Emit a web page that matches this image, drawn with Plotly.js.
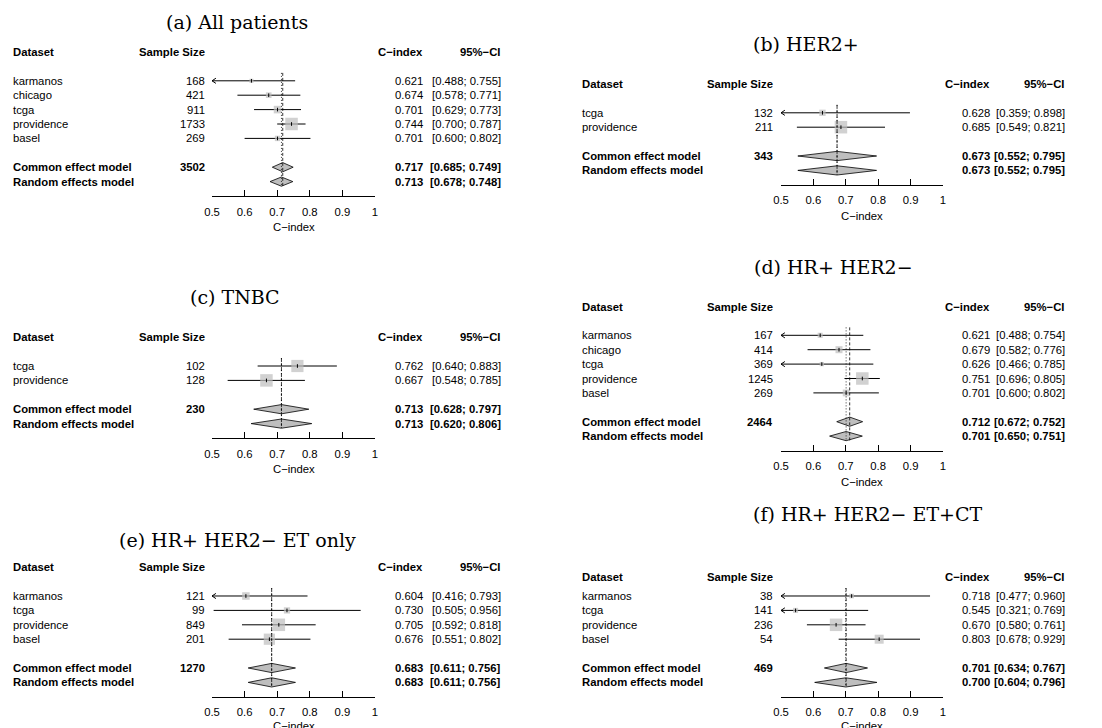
<!DOCTYPE html>
<html><head><meta charset="utf-8">
<script src="https://cdn.plot.ly/plotly-3.0.1.min.js"></script>
<style>html,body{margin:0;padding:0;background:#fff}#chart{width:1102px;height:728px}</style>
</head><body><div id="chart"></div>
<script>
// ---------------- data ----------------
const TICK_VALUES = [0.5, 0.6, 0.7, 0.8, 0.9, 1];
const TICK_LABELS = ['0.5', '0.6', '0.7', '0.8', '0.9', '1'];
const HEADERS = ['Dataset', 'Sample Size', 'C\u2212index', '95%\u2212CI'];
const MODEL_LABELS = ['Common effect model', 'Random effects model'];
const AXIS_LABEL = 'C\u2212index';

const titleA = '(a) All patients';
const namesA = ['karmanos', 'chicago', 'tcga', 'providence', 'basel'];
const sizesA = [168, 421, 911, 1733, 269];
const estA = [0.621, 0.674, 0.701, 0.744, 0.701];
const lowA = [0.488, 0.578, 0.629, 0.700, 0.600];
const highA = [0.755, 0.771, 0.773, 0.787, 0.802];
const totalA = 3502;
const commonA = [0.717, 0.685, 0.749];
const randomA = [0.713, 0.678, 0.748];

const titleB = '(b) HER2+';
const namesB = ['tcga', 'providence'];
const sizesB = [132, 211];
const estB = [0.628, 0.685];
const lowB = [0.359, 0.549];
const highB = [0.898, 0.821];
const totalB = 343;
const commonB = [0.673, 0.552, 0.795];
const randomB = [0.673, 0.552, 0.795];

const titleC = '(c) TNBC';
const namesC = ['tcga', 'providence'];
const sizesC = [102, 128];
const estC = [0.762, 0.667];
const lowC = [0.640, 0.548];
const highC = [0.883, 0.785];
const totalC = 230;
const commonC = [0.713, 0.628, 0.797];
const randomC = [0.713, 0.620, 0.806];

const titleD = '(d) HR+ HER2\u2212';
const namesD = ['karmanos', 'chicago', 'tcga', 'providence', 'basel'];
const sizesD = [167, 414, 369, 1245, 269];
const estD = [0.621, 0.679, 0.626, 0.751, 0.701];
const lowD = [0.488, 0.582, 0.466, 0.696, 0.600];
const highD = [0.754, 0.776, 0.785, 0.805, 0.802];
const totalD = 2464;
const commonD = [0.712, 0.672, 0.752];
const randomD = [0.701, 0.650, 0.751];

const titleE = '(e) HR+ HER2\u2212 ET only';
const namesE = ['karmanos', 'tcga', 'providence', 'basel'];
const sizesE = [121, 99, 849, 201];
const estE = [0.604, 0.730, 0.705, 0.676];
const lowE = [0.416, 0.505, 0.592, 0.551];
const highE = [0.793, 0.956, 0.818, 0.802];
const totalE = 1270;
const commonE = [0.683, 0.611, 0.756];
const randomE = [0.683, 0.611, 0.756];

const titleF = '(f) HR+ HER2\u2212 ET+CT';
const namesF = ['karmanos', 'tcga', 'providence', 'basel'];
const sizesF = [38, 141, 236, 54];
const estF = [0.718, 0.545, 0.670, 0.803];
const lowF = [0.477, 0.321, 0.580, 0.678];
const highF = [0.960, 0.769, 0.761, 0.929];
const totalF = 469;
const commonF = [0.701, 0.634, 0.767];
const randomF = [0.700, 0.604, 0.796];

// ---------------- layout constants ----------------
const W = 1102, H = 728, SP = 14.4;
const FONT = 'Liberation Sans, Arial, Helvetica, sans-serif';
const SERIF = 'DejaVu Serif, serif';
const FS = 11.3;
const LEFT = {name: 12, sampleR: 206, axL: 212, axR: 375, estR: 424, ciR: 502};
const RIGHT = {name: 581, sampleR: 774, axL: 781, axR: 943, estR: 991, ciR: 1066};

const panels = [
  {title: titleA, names: namesA, sizes: sizesA, est: estA, low: lowA, high: highA, total: totalA, common: commonA, random: randomA,
   col: LEFT, y0: 80.8, hdr: -2, tx: 237, ty: 22, tanchor: 'center', xlab: 31},
  {title: titleB, names: namesB, sizes: sizesB, est: estB, low: lowB, high: highB, total: totalB, common: commonB, random: randomB,
   col: RIGHT, y0: 112.8, hdr: -2, tx: 752, ty: 44, tanchor: 'left', xlab: 31},
  {title: titleC, names: namesC, sizes: sizesC, est: estC, low: lowC, high: highC, total: totalC, common: commonC, random: randomC,
   col: LEFT, y0: 366, hdr: -2, tx: 235, ty: 297, tanchor: 'center', xlab: 31},
  {title: titleD, names: namesD, sizes: sizesD, est: estD, low: lowD, high: highD, total: totalD, common: commonD, random: randomD,
   col: RIGHT, y0: 335.3, hdr: -2, tx: 753, ty: 267, tanchor: 'left', xlab: 31},
  {title: titleE, names: namesE, sizes: sizesE, est: estE, low: lowE, high: highE, total: totalE, common: commonE, random: randomE,
   col: LEFT, y0: 596, hdr: -2, tx: 237, ty: 540, tanchor: 'center', xlab: 29},
  {title: titleF, names: namesF, sizes: sizesF, est: estF, low: lowF, high: highF, total: totalF, common: commonF, random: randomF,
   col: RIGHT, y0: 596, hdr: -1.32, tx: 752, ty: 514, tanchor: 'left', xlab: 29}
];

const MAXSQ = 12.5;
const XMIN = 0.5, XMAX = 1;
const ARROW_DX = 0.012, ARROW_DY = 0.18, DIAMOND_H = 0.32;
const GREY = '#bebebe';

const traces = [];
const annotations = [];
const layout = {
  width: W, height: H, margin: {l: 0, r: 0, t: 0, b: 0},
  paper_bgcolor: '#fff', plot_bgcolor: 'rgba(0,0,0,0)',
  showlegend: false, hovermode: false, annotations: annotations
};

function txt(text, xpx, ypx, anchor, bold, size, family) {
  annotations.push({
    xref: 'paper', yref: 'paper', x: xpx / W, y: 1 - ypx / H,
    xanchor: anchor, yanchor: 'middle', showarrow: false, borderpad: 0,
    text: bold ? '<b>' + text + '</b>' : text,
    font: {family: family || FONT, size: size || FS, color: '#000'}
  });
}
const f3 = v => v.toFixed(3);

panels.forEach((p, k) => {
  const id = k === 0 ? '' : String(k + 1);
  const xa = 'x' + id, ya = 'y' + id;
  const n = p.names.length;
  const c = p.col;
  const rowPx = i => p.y0 + i * SP;
  const axisIdx = n + 3;
  const topIdx = -1;

  layout['xaxis' + id] = {
    domain: [c.axL / W, c.axR / W], range: [XMIN, XMAX], anchor: ya,
    showline: true, linecolor: '#000', linewidth: 1, mirror: false,
    ticks: 'inside', ticklen: 6, tickwidth: 1, tickcolor: '#000',
    tickvals: TICK_VALUES, ticktext: TICK_LABELS, ticklabelstandoff: 5,
    tickfont: {family: FONT, size: FS, color: '#000'},
    showgrid: false, zeroline: false, fixedrange: true
  };
  layout['yaxis' + id] = {
    domain: [1 - rowPx(axisIdx) / H, 1 - rowPx(topIdx) / H],
    range: [axisIdx, topIdx], anchor: xa, visible: false,
    showgrid: false, zeroline: false, fixedrange: true
  };

  // title
  txt(p.title, p.tx, p.ty, p.tanchor, false, 19, SERIF);
  // axis label
  txt(AXIS_LABEL, (c.axL + c.axR) / 2, rowPx(axisIdx) + p.xlab, 'center', false);
  // headers
  const hy = rowPx(p.hdr);
  txt(HEADERS[0], c.name, hy, 'left', true);
  txt(HEADERS[1], c.sampleR, hy, 'right', true);
  txt(HEADERS[2], c.estR, hy, 'right', true);
  txt(HEADERS[3], c.ciR, hy, 'right', true);
  // study rows
  for (let i = 0; i < n; i++) {
    const y = rowPx(i);
    txt(p.names[i], c.name, y, 'left', false);
    txt(String(p.sizes[i]), c.sampleR, y, 'right', false);
    txt(f3(p.est[i]), c.estR, y, 'right', false);
    txt('[' + f3(p.low[i]) + '; ' + f3(p.high[i]) + ']', c.ciR, y, 'right', false);
  }
  // model rows
  const models = [p.common, p.random];
  models.forEach((m, j) => {
    const y = rowPx(n + 1 + j);
    txt(MODEL_LABELS[j], c.name, y, 'left', true);
    if (j === 0) txt(String(p.total), c.sampleR, y, 'right', true);
    txt(f3(m[0]), c.estR, y, 'right', true);
    txt('[' + f3(m[1]) + '; ' + f3(m[2]) + ']', c.ciR, y, 'right', true);
  });

  const base = {xaxis: xa, yaxis: ya, hoverinfo: 'skip', cliponaxis: false};

  // CI lines (truncated at the axis minimum, with an arrowhead)
  const lx = [], ly = [];
  const axx = [], axy = [];
  for (let i = 0; i < n; i++) {
    lx.push(Math.max(p.low[i], XMIN), Math.min(p.high[i], XMAX), null);
    ly.push(i, i, null);
    if (p.low[i] < XMIN) {
      axx.push(XMIN + ARROW_DX, XMIN, XMIN + ARROW_DX, null);
      axy.push(i - ARROW_DY, i, i + ARROW_DY, null);
    }
  }
  traces.push(Object.assign({type: 'scatter', mode: 'lines', x: lx, y: ly,
    line: {color: '#000', width: 1}}, base));
  if (axx.length) traces.push(Object.assign({type: 'scatter', mode: 'lines', x: axx, y: axy,
    line: {color: '#000', width: 1}}, base));

  // squares sized by inverse-variance weight (from CI width)
  const widths = p.high.map((h, i) => h - p.low[i]);
  const minW = Math.min.apply(null, widths);
  const sq = widths.map(w => MAXSQ * minW / w);
  const rows = p.names.map((_, i) => i);
  traces.push(Object.assign({type: 'scatter', mode: 'markers', x: p.est, y: rows,
    marker: {symbol: 'square', size: sq, color: GREY, line: {width: 0}}}, base));
  traces.push(Object.assign({type: 'scatter', mode: 'markers', x: p.est, y: rows,
    marker: {symbol: 'line-ns-open', size: 2.6, color: '#000', line: {color: '#000', width: 1}}}, base));

  // diamonds
  models.forEach((m, j) => {
    const r = n + 1 + j;
    traces.push(Object.assign({type: 'scatter', mode: 'lines', fill: 'toself', fillcolor: GREY,
      x: [m[1], m[0], m[2], m[0], m[1]], y: [r, r - DIAMOND_H, r, r + DIAMOND_H, r],
      line: {color: '#000', width: 0.8}}, base));
  });

  // reference lines: common (dashed) and random (dotted)
  traces.push(Object.assign({type: 'scatter', mode: 'lines', x: [p.common[0], p.common[0]], y: [-0.55, n + 2.3],
    line: {color: '#000', width: 0.8, dash: '3px,2px'}}, base));
  traces.push(Object.assign({type: 'scatter', mode: 'lines', x: [p.random[0], p.random[0]], y: [-0.55, n + 2.3],
    line: {color: '#000', width: 0.8, dash: '1px,2px'}}, base));
});

Plotly.newPlot('chart', traces, layout, {staticPlot: true, displayModeBar: false});
</script>
</body></html>
